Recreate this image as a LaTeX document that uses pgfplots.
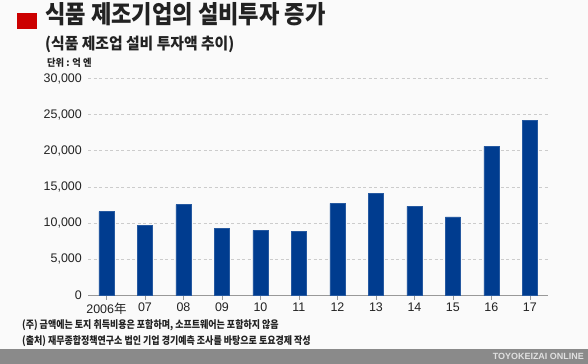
\documentclass[border=0pt]{standalone}
\usepackage{pgfplots}
\pgfplotsset{compat=1.18}
\usepackage{fontspec}
\setmainfont{Liberation Sans}
\newfontfamily\kr{Noto Sans CJK KR}
\newfontfamily\krT{Noto Sans CJK KR}[FakeStretch=0.89]
\newfontfamily\krS{Noto Sans CJK KR}[FakeStretch=0.93]
\newfontfamily\krF{Noto Sans CJK KR}[FakeStretch=0.86]
\definecolor{barblue}{HTML}{003C8F}
\definecolor{bgc}{HTML}{FAFAFA}
\definecolor{bandc}{HTML}{8A8A8A}
\definecolor{redsq}{HTML}{CC0000}
\definecolor{txt}{HTML}{222222}
\definecolor{gridc}{HTML}{CCCCCC}
\begin{document}
\begin{tikzpicture}
\fill[bgc] (0bp,0bp) rectangle (588bp,364bp);
\useasboundingbox (0bp,0bp) rectangle (588bp,364bp);
\fill[bandc] (0bp,0bp) rectangle (588bp,14.7bp);
\fill[redsq] (17.3bp,335bp) rectangle (36.7bp,351.3bp);
\node[anchor=base west, inner sep=0, text=txt] at (45bp,340.5bp) {\fontsize{25}{25}\krT\bfseries 식품 제조기업의 설비투자 증가};
\node[anchor=base west, inner sep=0, text=txt] at (45bp,314.3bp) {\fontsize{16}{16}\krS\bfseries (식품 제조업 설비 투자액 추이)};
\node[anchor=base west, inner sep=0, text=txt] at (47bp,297.5bp) {\fontsize{10}{10}\krS\bfseries 단위 : 억 엔};
\node[anchor=base west, inner sep=0, text=txt] at (22bp,35.3bp) {\fontsize{10.5}{10.5}\krF\bfseries (주) 금액에는 토지 취득비용은 포함하며, 소프트웨어는 포함하지 않음};
\node[anchor=base west, inner sep=0, text=txt] at (22bp,19.5bp) {\fontsize{10.5}{10.5}\krF\bfseries (출처) 재무종합정책연구소 법인 기업 경기예측 조사를 바탕으로 토요경제 작성};
\node[anchor=east, inner sep=0, text=white!88!black] at (584bp,7.3bp) {\fontsize{9}{9}\selectfont\bfseries TOYOKEIZAI ONLINE};
\begin{axis}[
  at={(88bp,68.5bp)}, anchor=south west,
  scale only axis, width=460bp, height=217bp,
  xmin=-0.48, xmax=11.47, ymin=0, ymax=30000,
  enlarge y limits=false,
  axis x line*=bottom, axis y line*=left,
  y axis line style={draw=none},
  x axis line style={draw=gray!80, line width=1bp},
  xtick={0,1,2,3,4,5,6,7,8,9,10,11},
  xticklabels={2006{\kr 年},07,08,09,10,11,12,13,14,15,16,17},
  ytick={0,5000,10000,15000,20000,25000,30000},
  scaled y ticks=false,
  /pgf/number format/1000 sep={,},
  /pgf/number format/assume math mode=true,
  tick align=outside,
  x tick style={draw=gray!80, line width=0.8bp},
  major tick length=4bp,
  y tick style={draw=none},
  ymajorgrids,
  grid style={draw=gridc, line width=0.8bp, dash pattern=on 3bp off 2.5bp},
  tick label style={font=\fontsize{12.5}{12.5}\selectfont, text=txt},
  yticklabel style={inner sep=0pt, xshift=-2bp},
  xticklabel style={inner sep=0pt, yshift=-3bp},
]
\addplot[ybar, bar width=0.39, fill=barblue, draw=barblue!85!white, line width=0.5bp] coordinates {
(0,11580) (1,9730) (2,12560) (3,9320) (4,8990) (5,8850)
(6,12720) (7,14100) (8,12310) (9,10880) (10,20620) (11,24250)};
\end{axis}
\end{tikzpicture}
\end{document}
